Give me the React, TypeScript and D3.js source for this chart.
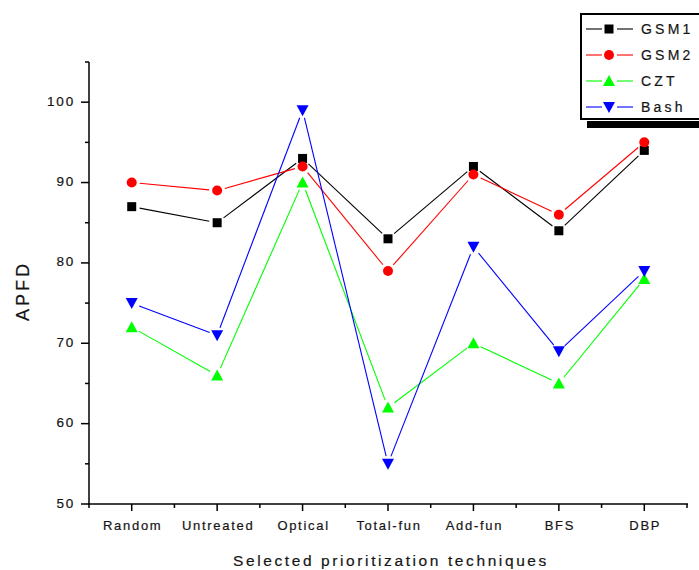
import React from "react";
import * as d3 from "d3";

const categories = ["Random", "Untreated", "Optical", "Total-fun", "Add-fun", "BFS", "DBP"];
const gsm1 = [87, 85, 93, 83, 92, 84, 94];
const gsm2 = [90, 89, 92, 79, 91, 86, 95];
const czt = [72, 66, 90, 62, 70, 65, 78];
const bash = [75, 71, 99, 55, 82, 69, 79];
const yTicks = [50, 60, 70, 80, 90, 100];
const yMinor = [55, 65, 75, 85, 95, 105];

const series = [
  { name: "GSM1", values: gsm1, color: "#000000", shape: "square" },
  { name: "GSM2", values: gsm2, color: "#ff0000", shape: "circle" },
  { name: "CZT", values: czt, color: "#00ff00", shape: "up" },
  { name: "Bash", values: bash, color: "#0000ff", shape: "down" },
];

const W = 699;
const H = 570;
const font = "'Liberation Sans', Arial, sans-serif";
const ink = "#151515";

function Marker({ shape, x, y, color }: { shape: string; x: number; y: number; color: string }) {
  if (shape === "square") return <rect x={x - 4.5} y={y - 4.5} width={9} height={9} fill={color} />;
  if (shape === "circle") return <circle cx={x} cy={y} r={5} fill={color} />;
  if (shape === "up") return <path d={`M${x},${y - 6} L${x + 6},${y + 5} L${x - 6},${y + 5} Z`} fill={color} />;
  return <path d={`M${x - 6},${y - 5} L${x + 6},${y - 5} L${x},${y + 6} Z`} fill={color} />;
}

export default function App() {
  const x = d3.scaleLinear().domain([-0.5, categories.length - 0.5]).range([89, 687]);
  const y = d3.scaleLinear().domain([50, 105]).range([504, 62]);
  const gap = 8;

  // segments between points, shortened so they stop short of the markers
  const segs = (vals: number[]) =>
    d3.pairs(vals.map((v, i) => [x(i), y(v)] as [number, number])).map(([a, b]) => {
      const dx = b[0] - a[0];
      const dy = b[1] - a[1];
      const len = Math.hypot(dx, dy);
      const ux = dx / len;
      const uy = dy / len;
      return [a[0] + ux * gap, a[1] + uy * gap, b[0] - ux * gap, b[1] - uy * gap];
    });

  const minorX = d3.range(-0.5, categories.length, 1);
  const legY = d3.scaleLinear().domain([0, 3]).range([29, 107]);
  const txt = { fill: ink, stroke: ink, strokeWidth: 0.2 };

  return (
    <svg width={W} height={H} style={{ position: "absolute", left: 0, top: 0, background: "#fff" }} fontFamily={font}>
      {/* y axis */}
      <line x1={89} x2={89} y1={y(105)} y2={y(50)} stroke="#000" strokeWidth={1.5} />
      {yTicks.map((t) => (
        <g key={t}>
          <line x1={81} x2={89} y1={y(t)} y2={y(t)} stroke="#000" strokeWidth={1.5} />
          <text x={75} y={y(t) + 3.5} textAnchor="end" fontSize={13.5} letterSpacing={1.8} {...txt}>
            {t}
          </text>
        </g>
      ))}
      {yMinor.map((t) => (
        <line key={t} x1={85} x2={89} y1={y(t)} y2={y(t)} stroke="#000" strokeWidth={1.5} />
      ))}
      <text
        transform={`translate(29,${y(76.5)}) rotate(-90)`}
        textAnchor="middle"
        fontSize={18}
        letterSpacing={3}
        {...txt}
      >
        APFD
      </text>

      {/* x axis */}
      <line x1={88} x2={688} y1={y(50)} y2={y(50)} stroke="#000" strokeWidth={1.5} />
      {categories.map((c, i) => (
        <g key={c}>
          <line x1={x(i)} x2={x(i)} y1={y(50)} y2={y(50) + 7} stroke="#000" strokeWidth={1.5} />
          <text x={x(i) + 1} y={y(50) + 26} textAnchor="middle" fontSize={13} letterSpacing={1.7} {...txt}>
            {c}
          </text>
        </g>
      ))}
      {minorX.map((m) => (
        <line key={m} x1={x(m)} x2={x(m)} y1={y(50)} y2={y(50) + 4} stroke="#000" strokeWidth={1.5} />
      ))}
      <text x={391} y={566} textAnchor="middle" fontSize={15.5} letterSpacing={2.6} {...txt}>
        Selected prioritization techniques
      </text>

      {/* series */}
      {series.map((s) => (
        <g key={s.name}>
          {segs(s.values).map((p, i) => (
            <line key={i} x1={p[0]} y1={p[1]} x2={p[2]} y2={p[3]} stroke={s.color} strokeWidth={1.1} />
          ))}
          {s.values.map((v, i) => (
            <Marker key={i} shape={s.shape} x={x(i)} y={y(v)} color={s.color} />
          ))}
        </g>
      ))}

      {/* legend */}
      <rect x={587} y={121} width={130} height={7} fill="#000" />
      <rect x={581} y={14} width={130} height={105} fill="#fff" stroke="#000" strokeWidth={2} />
      {series.map((s, i) => (
        <g key={s.name}>
          <line x1={586} x2={602} y1={legY(i)} y2={legY(i)} stroke={s.color} strokeWidth={1.1} />
          <line x1={617} x2={633} y1={legY(i)} y2={legY(i)} stroke={s.color} strokeWidth={1.1} />
          <Marker shape={s.shape} x={609} y={legY(i)} color={s.color} />
          <text x={641} y={legY(i) + 5} fontSize={14} letterSpacing={3.2} {...txt}>
            {s.name}
          </text>
        </g>
      ))}
    </svg>
  );
}
